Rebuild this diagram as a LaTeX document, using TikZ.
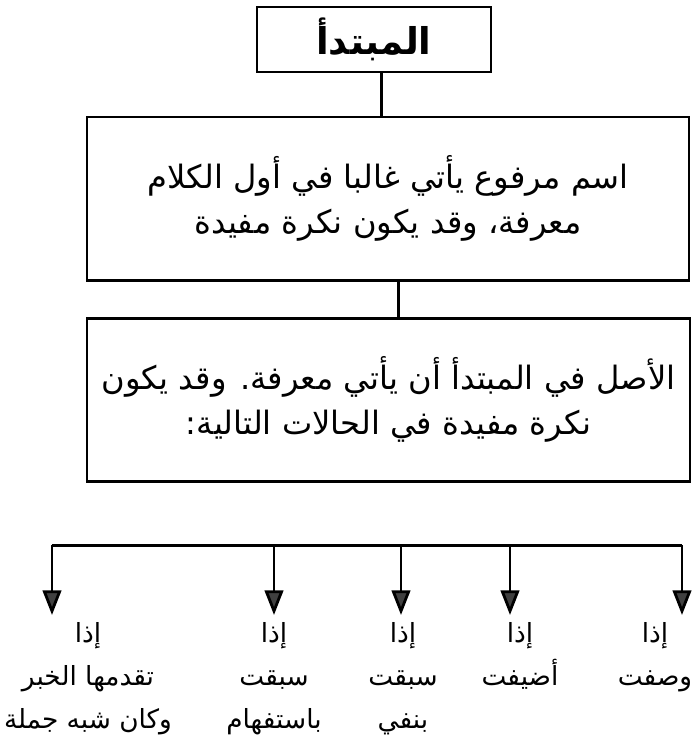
\documentclass[tikz,border=0pt]{standalone}
\usepackage{fontspec}
\newfontfamily\arabicfont[Script=Arabic]{DejaVu Sans}
\TeXXeTstate=1
\usetikzlibrary{arrows.meta}
\newcommand{\ar}[1]{\beginR #1\endR}

\begin{document}
\begin{tikzpicture}[
  box/.style={draw,line width=1.7pt,inner sep=0pt,align=center},
  boxtxt/.style={font=\arabicfont\fontsize{18.3}{26}\selectfont},
  lbl/.style={anchor=north,align=center,inner xsep=0pt,inner ysep=4pt,font=\arabicfont\fontsize{15}{24.5}\selectfont},
  arr/.style={line width=1.6pt,-{Triangle[width=10.5pt,length=14pt,fill=darkgray]}}
]
\useasboundingbox (0,0) rectangle (14,-15.06);
% boxes
\node[box,minimum width=4.68cm,minimum height=1.3cm,font=\arabicfont\bfseries\fontsize{21}{24}\selectfont] (mubt) at (7.48,-0.79) {\ar{المبتدأ}};
\node[box,boxtxt,minimum width=12.04cm,minimum height=3.26cm] (tarif) at (7.76,-3.97)
  {\ar{اسم مرفوع يأتي غالبا في أول الكلام}\\\ar{معرفة، وقد يكون نكرة مفيدة}};
\node[box,boxtxt,minimum width=12.06cm,minimum height=3.26cm] (asl) at (7.77,-7.99)
  {\ar{الأصل في المبتدأ أن يأتي معرفة. وقد يكون}\\\ar{نكرة مفيدة في الحالات التالية:}};
\draw[line width=1.7pt] ([xshift=4.5pt]mubt.south) -- ([xshift=4.5pt]mubt.south |- tarif.north);
\draw[line width=1.7pt] ([xshift=5.7pt]tarif.south) -- ([xshift=5.7pt]tarif.south |- asl.north);
% branches
\coordinate (t1) at (1.04,-10.9);
\coordinate (t2) at (5.48,-10.9);
\coordinate (t3) at (8.02,-10.9);
\coordinate (t4) at (10.2,-10.9);
\coordinate (t5) at (13.64,-10.9);
\draw[line width=1.7pt] (t1) -- (t5);
\node[lbl] (l1) at (1.76,-12.3) {\ar{إذا}\\\ar{تقدمها الخبر}\\\ar{وكان شبه جملة}};
\node[lbl] (l2) at (5.48,-12.3) {\ar{إذا}\\\ar{سبقت}\\\ar{باستفهام}};
\node[lbl] (l3) at (8.06,-12.3) {\ar{إذا}\\\ar{سبقت}\\\ar{بنفي}};
\node[lbl] (l4) at (10.4,-12.3) {\ar{إذا}\\\ar{أضيفت}};
\node[lbl] (l5) at (13.1,-12.3) {\ar{إذا}\\\ar{وصفت}};
\foreach \i in {1,...,5}
  \draw[arr] (t\i) -- (t\i |- l\i.north);
\end{tikzpicture}
\end{document}
